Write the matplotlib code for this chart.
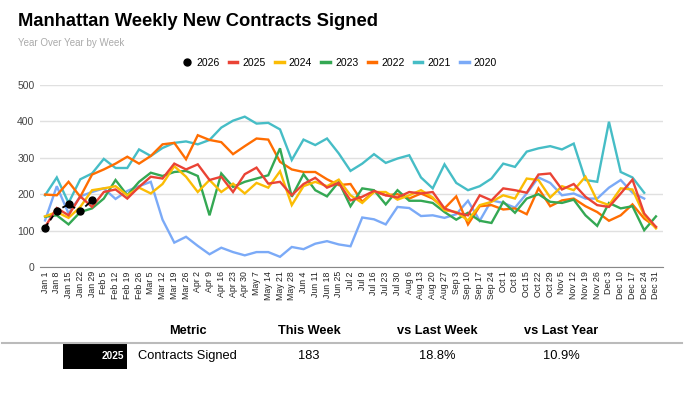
import matplotlib
matplotlib.use('Agg')
import matplotlib.pyplot as plt
import numpy as np
from matplotlib.lines import Line2D
from matplotlib.patches import Rectangle

plt.rcParams['font.family'] = ['Liberation Sans', 'DejaVu Sans']

weeks = ['Jan 1', 'Jan 8', 'Jan 15', 'Jan 22', 'Jan 29', 'Feb 5', 'Feb 12', 'Feb 19',
         'Feb 26', 'Mar 5', 'Mar 12', 'Mar 19', 'Mar 26', 'Apr 2', 'Apr 9', 'Apr 16',
         'Apr 23', 'Apr 30', 'May 7', 'May 14', 'May 21', 'May 28', 'Jun 4', 'Jun 11',
         'Jun 18', 'Jun 25', 'Jul 2', 'Jul 9', 'Jul 16', 'Jul 23', 'Jul 30', 'Aug 6',
         'Aug 13', 'Aug 20', 'Aug 27', 'Sep 3', 'Sep 10', 'Sep 17', 'Sep 24', 'Oct 1',
         'Oct 8', 'Oct 15', 'Oct 22', 'Oct 29', 'Nov 5', 'Nov 12', 'Nov 19', 'Nov 26',
         'Dec 3', 'Dec 10', 'Dec 17', 'Dec 24', 'Dec 31']

y2026 = [108, 155, 172, 154, 183]
y2025 = [110, 162, 142, 194, 165, 206, 213, 188, 220, 248, 243, 284, 268, 282, 239, 248,
         206, 255, 273, 229, 234, 197, 228, 245, 218, 231, 183, 193, 209, 197, 191, 206,
         202, 206, 161, 149, 142, 197, 183, 216, 211, 204, 254, 257, 213, 228, 193, 170,
         165, 202, 240, 147, 110]
y2024 = [139, 151, 135, 165, 211, 216, 222, 197, 218, 202, 228, 277, 248, 206, 239, 206,
         229, 202, 231, 218, 263, 170, 222, 234, 222, 240, 197, 176, 206, 206, 185, 197,
         211, 191, 156, 151, 128, 170, 179, 197, 188, 243, 239, 191, 222, 211, 248, 182,
         170, 216, 213, 142, 106]
y2023 = [138, 142, 117, 151, 161, 188, 239, 197, 234, 259, 250, 261, 264, 250, 142, 257,
         220, 234, 243, 252, 326, 193, 255, 211, 194, 234, 167, 216, 211, 172, 211, 182,
         182, 176, 151, 130, 149, 127, 121, 179, 149, 188, 200, 179, 176, 185, 142, 113,
         176, 161, 167, 101, 139]
y2022 = [199, 197, 234, 193, 254, 268, 284, 303, 284, 305, 337, 341, 296, 362, 349, 343,
         310, 332, 353, 350, 289, 268, 261, 261, 241, 225, 228, 179, 208, 197, 200, 188,
         202, 188, 161, 194, 117, 167, 170, 158, 161, 145, 216, 167, 183, 188, 167, 151,
         127, 142, 172, 133, 110]
y2021 = [197, 246, 176, 241, 257, 297, 272, 272, 323, 305, 327, 341, 345, 337, 349, 383,
         402, 413, 394, 396, 378, 294, 350, 335, 353, 312, 264, 284, 310, 286, 298, 307,
         246, 216, 282, 231, 211, 222, 243, 284, 275, 317, 326, 332, 323, 339, 239, 234,
         399, 261, 246, 204]
y2020 = [128, 222, 147, 194, 206, 216, 187, 209, 222, 234, 130, 67, 83, 58, 35, 53,
         41, 32, 41, 41, 28, 55, 49, 64, 71, 62, 57, 136, 131, 117, 165, 162,
         140, 142, 135, 145, 182, 127, 183, 176, 163, 202, 246, 231, 197, 202, 188, 188,
         218, 239, 204, 188]

# table
tbl_cols = ['Metric', 'This Week', 'vs Last Week', 'vs Last Year']
tbl_row = ['Contracts Signed', '183', '18.8%', '10.9%']
tbl_tag = '2025'

series = [
    ('2020', y2020, '#7baaf7'),
    ('2021', y2021, '#46bdc6'),
    ('2022', y2022, '#ff6d01'),
    ('2023', y2023, '#34a853'),
    ('2024', y2024, '#fbbc04'),
    ('2025', y2025, '#ea4335'),
]

W, H = 692, 397
fig = plt.figure(figsize=(W / 100, H / 100), dpi=100)

def px(x, y):
    return x / W, 1 - y / H

# ── Titles ─────────────────────────────────────────────
fig.text(*px(18, 21), 'Manhattan Weekly New Contracts Signed', fontsize=13.2,
         fontweight='bold', va='center', ha='left')
fig.text(*px(18, 43), 'Year Over Year by Week', fontsize=7, color='#aaaaaa',
         va='center', ha='left')

# ── Chart ──────────────────────────────────────────────
l, r, t, b = 40, 663, 85, 267
ax = fig.add_axes([l / W, 1 - b / H, (r - l) / W, (b - t) / H])
x = np.arange(len(weeks))
for name, vals, col in series:
    ax.plot(x[:len(vals)], vals, color=col, lw=1.7, solid_joinstyle='miter')
ax.plot(x[:len(y2026)], y2026, color='black', lw=1.3, ls=(0, (3, 2)),
        marker='o', ms=5, zorder=5)

ax.set_xlim(-0.43, 52.6)
ax.set_ylim(0, 500)
ax.set_yticks(range(0, 501, 100))
ax.set_xticks(x)
ax.set_xticklabels(weeks, rotation=90, fontsize=6.3, color='#222222')
ax.tick_params(axis='y', labelsize=7.5, colors='#444444', length=0, pad=4)
ax.tick_params(axis='x', length=0, pad=3)
ax.grid(axis='y', color='#e0e0e0', lw=1)
ax.set_axisbelow(True)
for s in ['top', 'right', 'left']:
    ax.spines[s].set_visible(False)
ax.spines['bottom'].set_color('#888888')

# ── Legend ─────────────────────────────────────────────
handles = [Line2D([], [], color='black', marker='o', ls='none', ms=5)]
labels = ['2026']
for name, vals, col in reversed(series):
    handles.append(Line2D([], [], color=col, lw=2.5))
    labels.append(name)
fig.legend(handles, labels, loc='center', bbox_to_anchor=px(340, 63), ncol=7,
           frameon=False, fontsize=7.5, handlelength=0.8, handletextpad=0.5,
           columnspacing=0.9)

# ── Table ──────────────────────────────────────────────
narrow = ['Liberation Sans Narrow', 'Liberation Sans']
col_x = [188, 309, 437, 561]
for cx, txt in zip(col_x, tbl_cols):
    fig.text(*px(cx, 331), txt, fontsize=9.2, fontweight='bold', ha='center', va='center',
             family=narrow)
fig.add_artist(Line2D([2 / W, 682 / W], [1 - 343 / H] * 2, color='#bbbbbb', lw=1.5))
fig.add_artist(Rectangle(px(63, 369), 64 / W, 26 / H, color='black', lw=0))
fig.text(*px(124, 356), tbl_tag, fontsize=7.2, fontweight='bold', color='white',
         ha='right', va='center', family=narrow)
fig.text(*px(138, 356), tbl_row[0], fontsize=9.3, ha='left', va='center', family=narrow)
for cx, txt in zip(col_x[1:], tbl_row[1:]):
    fig.text(*px(cx, 356), txt, fontsize=9.3, ha='center', va='center', family=narrow)

fig.savefig('out.png', dpi=100)
